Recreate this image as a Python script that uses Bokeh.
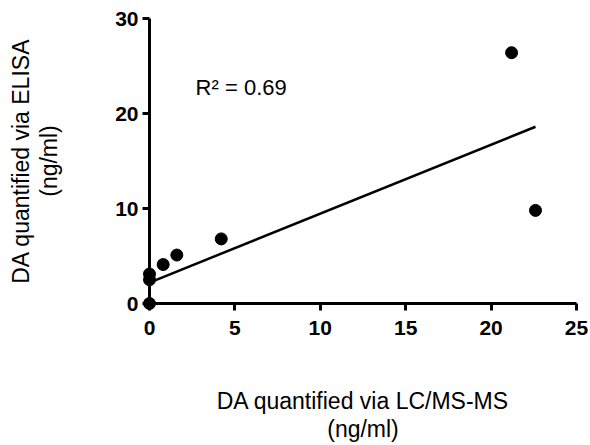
from bokeh.plotting import figure
from bokeh.models import FixedTicker, Range1d, Label
from bokeh.embed import file_html
from bokeh.resources import INLINE

# ---- data ----
lcms = [0.0, 0.0, 0.0, 0.8, 1.6, 4.2, 21.2, 22.6]
elisa = [0.0, 2.5, 3.1, 4.1, 5.1, 6.8, 26.4, 9.8]
fit_intercept = 2.2
fit_slope = 0.726
r_squared = 0.69
x_ticks = [0, 5, 10, 15, 20, 25]
y_ticks = [0, 10, 20, 30]
x_title = "DA quantified via LC/MS-MS\n(ng/ml)"
y_title = "DA quantified via ELISA\n(ng/ml)"

FONT = "Liberation Sans"

p = figure(
    output_backend="svg", toolbar_location=None,
    frame_width=427, frame_height=285,
    min_border_left=149, min_border_right=12,
    min_border_top=18, min_border_bottom=140,
    x_range=Range1d(0, 25), y_range=Range1d(0, 30),
)
p.outline_line_color = None
p.grid.visible = False
p.background_fill_color = "white"
p.border_fill_color = "white"

for ax, ticks in ((p.xaxis, x_ticks), (p.yaxis, y_ticks)):
    ax.ticker = FixedTicker(ticks=ticks)
    ax.axis_line_width = 3
    ax.axis_line_color = "black"
    ax.major_tick_line_width = 3
    ax.major_tick_line_color = "black"
    ax.major_tick_in = 0
    ax.major_tick_out = 7
    ax.minor_tick_line_color = None
    ax.major_label_text_font = FONT
    ax.major_label_text_font_style = "bold"
    ax.major_label_text_font_size = "21px"
    ax.major_label_text_color = "black"
    ax.axis_label_text_font = FONT
    ax.axis_label_text_font_style = "normal"
    ax.axis_label_text_font_size = "23px"
    ax.axis_label_text_color = "black"
    ax.axis_label_text_line_height = 1.1
p.xaxis.major_label_standoff = 10
p.yaxis.major_label_standoff = 4
p.xaxis.axis_label = x_title
p.yaxis.axis_label = y_title
p.xaxis.axis_label_standoff = 50
p.yaxis.axis_label_standoff = 50

# regression line
fx = [min(lcms), max(lcms)]
fy = [fit_intercept + fit_slope * v for v in fx]
p.line(fx, fy, line_color="black", line_width=2.5, level="overlay")

# points (overlay level so dots on the axes are not cut)
p.scatter(lcms, elisa, size=12, color="black", level="overlay")

# R^2 annotation
p.add_layout(Label(x=2.7, y=22.75, text=f"R\u00b2 = {r_squared:.2f}",
                   text_font=FONT, text_font_size="22px", text_color="black",
                   text_align="left", text_baseline="alphabetic"))

open("out.html", "w").write(file_html(p, INLINE))
